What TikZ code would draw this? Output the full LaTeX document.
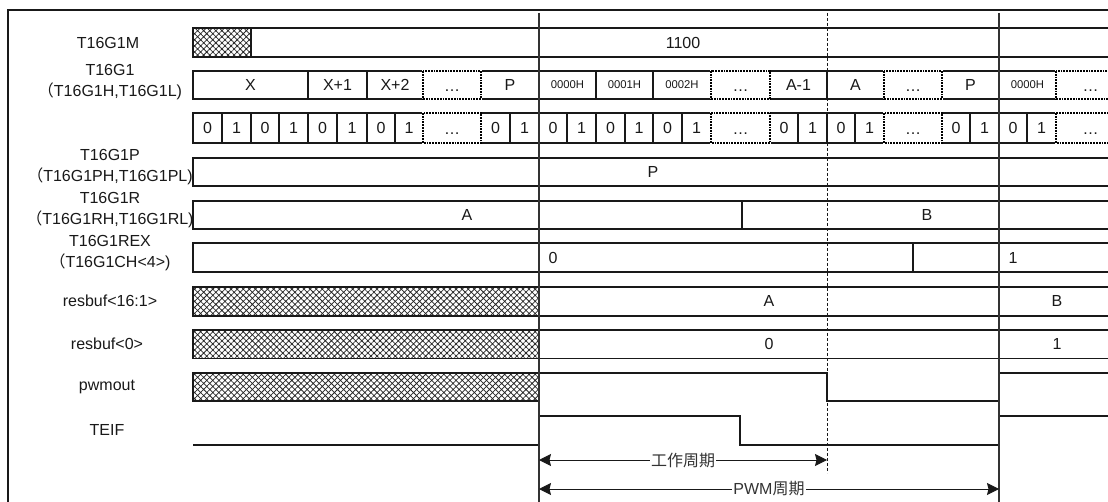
\documentclass[tikz,border=0pt]{standalone}
\usepackage{fontspec}
\setmainfont{Liberation Sans}
\newfontfamily\cjk{Noto Sans CJK SC}
\usetikzlibrary{patterns.meta,arrows.meta}
\begin{document}
\begin{tikzpicture}[x=1pt,y=-1pt,
  cellbox/.style={draw=black!90, line width=1.1pt},
  dotbox/.style={draw=white, line width=2pt,
    postaction={draw=black, line width=1.7pt, dash pattern=on 1.8pt off 1pt}},
  hatch/.style={pattern={Hatch[angle=45,distance=4.3pt,line width=0.75pt]}, pattern color=black!85},
  lbl/.style={font=\fontsize{16}{21.5}\selectfont, text=black!90, align=center, inner sep=0pt},
  val/.style={font=\fontsize{16}{19}\selectfont, text=black!90, inner sep=0pt},
  sval/.style={font=\fontsize{11.3}{13}\selectfont, text=black!90, inner sep=0pt},
  wave/.style={draw=black!90, line width=1.1pt},
  vline/.style={draw=black!80, line width=1.1pt},
  dashline/.style={draw=black!90, line width=1pt, dash pattern=on 3pt off 2pt},
  dim/.style={{Stealth[length=12pt,width=12pt,inset=1.5pt]}-{Stealth[length=12pt,width=12pt,inset=1.5pt]}, line width=1pt, black!90},
  dimlbl/.style={fill=white, inner sep=1pt, font=\fontsize{16}{19}\selectfont, text=black!80}
]
\useasboundingbox (0,0) rectangle (1108,502);
\clip (0,0) rectangle (1108,502);
\fill[white] (0,0) rectangle (1108,502);

% frame
\draw[line width=1.8pt, black!90] (8,515) -- (8,10) -- (1120,10);

% labels
\node[lbl] (l0) at (108,43) {T16G1M};
\node[lbl] (l1) at (110,82) {T16G1\\{\cjk （}T16G1H,T16G1L)};
\node[lbl] (l3) at (110,167) {T16G1P\\{\cjk （}T16G1PH,T16G1PL)};
\node[lbl] (l4) at (110,210) {T16G1R\\{\cjk （}T16G1RH,T16G1RL)};
\node[lbl] (l5) at (110,253) {T16G1REX\\{\cjk （}T16G1CH<4>)};
\node[lbl] (l6) at (110,301) {resbuf<16:1>};
\node[lbl] (l7) at (107,344) {resbuf<0>};
\node[lbl] (l8) at (107,387) {pwmout};
\node[lbl] (l9) at (107,430) {TEIF};

% row 0: T16G1M
\draw[cellbox] (193,28) rectangle (1120,57);
\draw[cellbox,hatch] (193,28) rectangle (251,57);
\node[val] (v0) at (683,43) {1100};

% row 1: T16G1
\foreach \a/\b/\t/\f in {193/308/X/val, 308/367/X+1/val, 367/423/X+2/val, 481/539/P/val,
    539/596/0000H/sval, 596/653/0001H/sval, 653/711/0002H/sval, 770/827/A-1/val,
    827/884/A/val, 942/999/P/val, 999/1056/0000H/sval}
{ \draw[cellbox] (\a,71) rectangle (\b,99);
  \node[\f] (r1-\a) at ({(\a+\b)/2},85) {\t}; }
\foreach \a/\b in {423/481, 711/770, 884/942, 1056/1125}
{ \draw[dotbox] (\a,71) rectangle (\b,99);
  \node[val] (r1d-\a) at ({(\a+\b)/2},91) {…}; }

% row 2: bits
\foreach \a/\b/\t in {193/222/0, 222/251/1, 251/279/0, 279/308/1, 308/337/0, 337/367/1,
    367/395/0, 395/423/1, 481/510/0, 510/539/1, 539/567/0, 567/596/1, 596/625/0, 625/653/1,
    653/682/0, 682/711/1, 770/798/0, 798/827/1, 827/855/0, 855/884/1, 942/970/0, 970/999/1,
    999/1027/0, 1027/1056/1}
{ \draw[cellbox] (\a,113) rectangle (\b,143);
  \node[val] (r2-\a) at ({(\a+\b)/2},128) {\t}; }
\foreach \a/\b in {423/481, 711/770, 884/942, 1056/1125}
{ \draw[dotbox] (\a,113) rectangle (\b,143);
  \node[val] (r2d-\a) at ({(\a+\b)/2},134) {…}; }

% row 3: T16G1P
\draw[cellbox] (193,158) rectangle (1120,186);
\node[val] (v3) at (653,172) {P};

% row 4: T16G1R
\draw[cellbox] (193,201) rectangle (1120,229);
\draw[cellbox] (742,201) -- (742,229);
\node[val] (v4a) at (467,215) {A};
\node[val] (v4b) at (927,215) {B};

% row 5: T16G1REX
\draw[cellbox] (193,243) rectangle (1120,272);
\draw[cellbox] (913,243) -- (913,272);
\node[val] (v5a) at (553,258) {0};
\node[val] (v5b) at (1013,258) {1};

% row 6: resbuf<16:1>
\draw[cellbox] (539,287) rectangle (1120,316);
\draw[cellbox,hatch] (193,287) rectangle (539,316);
\draw[cellbox] (999,287) -- (999,316);
\node[val] (v6a) at (769,301) {A};
\node[val] (v6b) at (1057,301) {B};

% row 7: resbuf<0>
\draw[cellbox] (539,330) rectangle (1120,358.5);
\draw[cellbox,hatch] (193,330) rectangle (539,358.5);
\draw[cellbox] (999,330) -- (999,358.5);
\node[val] (v7a) at (769,344) {0};
\node[val] (v7b) at (1057,344) {1};

% row 8: pwmout
\draw[cellbox,hatch] (193,373) rectangle (539,401);
\draw[wave] (539,373) -- (827,373) -- (827,401) -- (999,401) -- (999,373) -- (1120,373);

% row 9: TEIF
\draw[wave] (193,445) -- (539,445) -- (539,416) -- (740,416) -- (740,445) -- (999,445) -- (999,416) -- (1120,416);

% vertical guides
\draw[vline] (539,13) -- (539,515);
\draw[vline] (999,13) -- (999,515);
\draw[dashline] (827,13) -- (827,473);

% dimension arrows
\coordinate (a1) at (539,460);
\coordinate (a2) at (827,460);
\coordinate (b1) at (539,489);
\coordinate (b2) at (999,489);
\draw[dim] (a1) -- node[dimlbl] (t1) {\cjk 工作周期} (a2);
\draw[dim] (b1) -- node[dimlbl] (t2) {PWM{\cjk 周期}} (b2);
\end{tikzpicture}
\end{document}
